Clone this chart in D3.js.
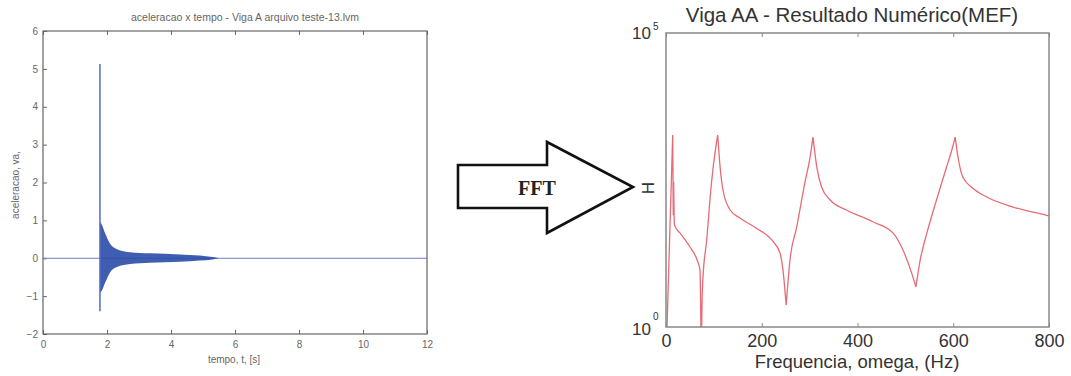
<!DOCTYPE html>
<html><head><meta charset="utf-8">
<script src="https://cdn.jsdelivr.net/npm/d3@7"></script>
<style>body{margin:0;background:#fff}svg{display:block}</style>
</head><body>
<script>
// ---------- DATA ----------
// Left: time signal (acceleration vs time)
const timeTicks = [0, 2, 4, 6, 8, 10, 12];
const accelTicks = [-2, -1, 0, 1, 2, 3, 4, 5, 6];
const spikeTime = 1.78;
const spikeMax = 5.13;
const spikeMin = -1.4;
const envTime  = [1.79, 1.82, 1.94, 2.09, 2.31, 2.72, 3.34, 4.28, 4.9, 5.3, 5.5];
const envUpper = [0.95, 0.92, 0.66, 0.39, 0.24, 0.16, 0.13, 0.1, 0.07, 0.03, 0.0];
const envLower = [-0.9, -0.88, -0.65, -0.38, -0.23, -0.15, -0.12, -0.09, -0.06, -0.03, 0.0];
// Right: FRF magnitude (numeric, FEM), log10(H)
const freq = [1, 14, 15.2, 16, 17.5, 21, 29, 50, 65, 71, 73.5, 75.5, 77, 85, 95, 104, 108, 113, 119, 134, 155, 189, 224, 238, 245, 251, 259, 273, 290, 301, 307, 315, 325, 343, 377, 432, 474, 495, 513, 522, 531, 545, 565, 586, 597, 604, 611, 620, 641, 670, 725, 795, 800];
const Hlog = [-0.3, 3.265, 1.9, 2.47, 1.75, 1.68, 1.60, 1.36, 1.14, 0.97, -0.5, 0.5, 0.8, 1.48, 2.45, 3.06, 3.265, 2.72, 2.33, 1.99, 1.85, 1.68, 1.45, 1.26, 0.92, 0.37, 1.14, 1.70, 2.45, 2.89, 3.23, 2.72, 2.38, 2.16, 1.99, 1.79, 1.60, 1.31, 0.92, 0.68, 1.14, 1.60, 2.16, 2.72, 3.01, 3.23, 2.84, 2.55, 2.36, 2.21, 2.04, 1.90, 1.89];
// indices of resonance peaks / anti-resonance dips (cusps)
const cuspIdx = [1, 2, 3, 10, 16, 25, 30, 39, 45];
const freqTicks = [0, 200, 400, 600, 800];

// ---------- CHART ----------
const W = 1071, H = 376;
const svg = d3.select("body").append("svg").attr("width", W).attr("height", H);
const SANS = "Liberation Sans, Arial, sans-serif";

// Left chart
const L = {x0: 43, x1: 427, y0: 31, y1: 334};
const xs = d3.scaleLinear().domain([0, 12]).range([L.x0, L.x1]);
const ys = d3.scaleLinear().domain([-2, 6]).range([L.y1, L.y0]);
const gl = svg.append("g");
const axCol = "#666", txtCol = "#666";
const fmtL = d3.format("d");
gl.append("g").attr("transform", `translate(0,${L.y1})`)
  .call(d3.axisBottom(xs).tickValues(timeTicks).tickSizeInner(-4).tickSizeOuter(0).tickPadding(7).tickFormat(fmtL))
  .call(g => { g.select(".domain").remove(); g.selectAll("line").attr("stroke", axCol);
    g.selectAll("text").attr("fill", txtCol).attr("font-size", 10).attr("font-family", SANS); });
gl.append("g").attr("transform", `translate(0,${L.y0})`)
  .call(d3.axisTop(xs).tickValues(timeTicks).tickSizeInner(-4).tickSizeOuter(0).tickFormat(""))
  .call(g => { g.select(".domain").remove(); g.selectAll("line").attr("stroke", axCol); });
gl.append("g").attr("transform", `translate(${L.x0},0)`)
  .call(d3.axisLeft(ys).tickValues(accelTicks).tickSizeInner(-4).tickSizeOuter(0).tickPadding(5).tickFormat(fmtL))
  .call(g => { g.select(".domain").remove(); g.selectAll("line").attr("stroke", axCol);
    g.selectAll("text").attr("fill", txtCol).attr("font-size", 10).attr("font-family", SANS); });

gl.append("line").attr("x1", xs(0)).attr("x2", xs(12)).attr("y1", ys(0)).attr("y2", ys(0))
  .attr("stroke", "#6f7fc4").attr("stroke-width", 1.2);
const env = envTime.map((t, i) => ({t, u: envUpper[i], l: envLower[i]}));
gl.append("path").datum(env)
  .attr("d", d3.area().x(d => xs(d.t)).y0(d => ys(d.l)).y1(d => ys(d.u)).curve(d3.curveMonotoneX))
  .attr("fill", "#2a4ba8").attr("fill-opacity", 0.9);
gl.append("line").attr("x1", xs(spikeTime)).attr("x2", xs(spikeTime))
  .attr("y1", ys(spikeMin)).attr("y2", ys(spikeMax)).attr("stroke", "#3a56b0").attr("stroke-width", 1.3);
gl.append("rect").attr("x", L.x0).attr("y", L.y0).attr("width", L.x1 - L.x0).attr("height", L.y1 - L.y0)
  .attr("fill", "none").attr("stroke", axCol).attr("stroke-width", 1.2);

gl.append("text").attr("x", 245).attr("y", 21).attr("text-anchor", "middle")
  .attr("font-size", 10.5).attr("fill", txtCol).attr("font-family", SANS)
  .text("aceleracao x tempo - Viga A  arquivo teste-13.lvm");
gl.append("text").attr("x", 234).attr("y", 363).attr("text-anchor", "middle")
  .attr("font-size", 10).attr("fill", txtCol).attr("font-family", SANS)
  .text("tempo, t, [s]");
gl.append("text").attr("transform", "translate(19,185) rotate(-90)").attr("text-anchor", "middle")
  .attr("font-size", 10).attr("fill", txtCol).attr("font-family", SANS)
  .text("aceleracao, va,");

// FFT arrow
const arrow = [[458,165],[547,165],[547,142],[633,187],[547,233],[547,208],[458,208]];
svg.append("path").attr("d", d3.line()(arrow) + "Z").attr("fill", "#fff").attr("stroke", "#111").attr("stroke-width", 2.6);
svg.append("text").attr("x", 537).attr("y", 195).attr("text-anchor", "middle")
  .attr("font-size", 20).attr("font-weight", "bold").attr("font-family", "Liberation Serif, Times New Roman, serif")
  .attr("fill", "#222").text("FFT");

// Right chart
const R = {x0: 666, x1: 1049, y0: 33, y1: 327};
const xr = d3.scaleLinear().domain([0, 800]).range([R.x0, R.x1]);
const yr = d3.scaleLog().domain([1, 1e5]).range([R.y1, R.y0]);
const gr = svg.append("g");
const axR = "#888", txtR = "#333";
gr.append("defs").append("clipPath").attr("id", "clipR").append("rect")
  .attr("x", R.x0).attr("y", R.y0).attr("width", R.x1 - R.x0).attr("height", R.y1 - R.y0);

gr.append("g").attr("transform", `translate(0,${R.y1})`)
  .call(d3.axisBottom(xr).tickValues(freqTicks).tickSizeInner(-4).tickSizeOuter(0).tickPadding(7).tickFormat(d3.format("d")))
  .call(g => { g.select(".domain").remove(); g.selectAll("line").attr("stroke", axR);
    g.selectAll("text").attr("fill", txtR).attr("font-size", 18).attr("font-family", SANS); });
gr.append("g").attr("transform", `translate(0,${R.y0})`)
  .call(d3.axisTop(xr).tickValues(freqTicks).tickSizeInner(-4).tickSizeOuter(0).tickFormat(""))
  .call(g => { g.select(".domain").remove(); g.selectAll("line").attr("stroke", axR); });

const pts = freq.map((f, i) => ({f, h: Math.pow(10, Hlog[i])}));
const lineGen = d3.line().x(d => xr(d.f)).y(d => yr(d.h)).curve(d3.curveMonotoneX);
const breaks = [0, ...cuspIdx, pts.length - 1];
let dStr = "";
for (let k = 0; k < breaks.length - 1; k++) dStr += lineGen(pts.slice(breaks[k], breaks[k + 1] + 1));
gr.append("path").attr("clip-path", "url(#clipR)").attr("d", dStr)
  .attr("fill", "none").attr("stroke", "#e66b76").attr("stroke-width", 1.3).attr("stroke-linejoin", "round");

gr.append("rect").attr("x", R.x0).attr("y", R.y0).attr("width", R.x1 - R.x0).attr("height", R.y1 - R.y0)
  .attr("fill", "none").attr("stroke", axR).attr("stroke-width", 1.5);

[[1e5, "5", 39, 30], [1, "0", 335, 320]].forEach(([v, e, by, sy]) => {
  gr.append("text").attr("x", 651).attr("y", by).attr("text-anchor", "end")
    .attr("font-size", 17).attr("fill", txtR).attr("font-family", SANS).text("10");
  gr.append("text").attr("x", 653).attr("y", sy).attr("text-anchor", "start")
    .attr("font-size", 10).attr("fill", txtR).attr("font-family", SANS).text(e);
});

gr.append("text").attr("x", 852).attr("y", 22).attr("text-anchor", "middle")
  .attr("font-size", 20.5).attr("fill", txtR).attr("font-family", SANS)
  .text("Viga AA - Resultado Numérico(MEF)");
gr.append("text").attr("x", 857).attr("y", 368).attr("text-anchor", "middle")
  .attr("font-size", 18.5).attr("fill", txtR).attr("font-family", SANS)
  .text("Frequencia, omega, (Hz)");
gr.append("text").attr("transform", "translate(654,188) rotate(-90)").attr("text-anchor", "middle")
  .attr("font-size", 17).attr("fill", txtR).attr("font-family", SANS)
  .text("H");
</script>
</body></html>
